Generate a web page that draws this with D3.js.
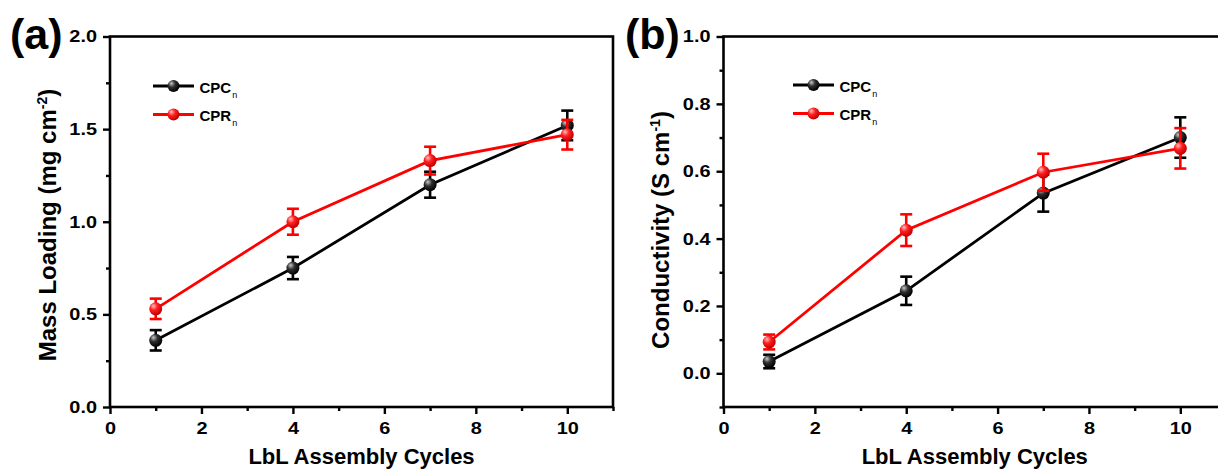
<!DOCTYPE html>
<html>
<head>
<meta charset="utf-8">
<script src="https://cdn.jsdelivr.net/npm/d3@7"></script>
<style>
  html, body { margin: 0; padding: 0; background: #fff; }
  svg { display: block; }
  text { font-family: "Liberation Sans", Arial, sans-serif; font-weight: bold; fill: #000; }
</style>
</head>
<body>
<svg id="chart" width="1218" height="470"></svg>
<script>
// LbL assembly cycles shared by both panels
const cycles = [1, 4, 7, 10];

// (a) mass loading, mg cm^-2
const massCPC    = [0.36, 0.75, 1.20, 1.52];
const massCPCErr = [0.055, 0.06, 0.07, 0.08];
const massCPR    = [0.53, 1.00, 1.33, 1.47];
const massCPRErr = [0.055, 0.07, 0.075, 0.08];

// (b) conductivity, S cm^-1
const condCPC    = [0.035, 0.245, 0.535, 0.70];
const condCPCErr = [0.02, 0.042, 0.055, 0.06];
const condCPR    = [0.093, 0.425, 0.597, 0.668];
const condCPRErr = [0.022, 0.047, 0.055, 0.06];

// axis ticks
const xMajor = [0, 2, 4, 6, 8, 10];
const xMinor = [1, 3, 5, 7, 9, 11];
const massMajor = [0, 0.5, 1.0, 1.5, 2.0];
const massMinor = [0.25, 0.75, 1.25, 1.75];
const condMajor = [0, 0.2, 0.4, 0.6, 0.8, 1.0];
const condMinor = [-0.1, 0.1, 0.3, 0.5, 0.7, 0.9];

const seriesNames = ["CPC", "CPR"];
const seriesColors = ["#000000", "#ff0000"];

const svg = d3.select("#chart");
const defs = svg.append("defs");

// shaded sphere markers
function sphereGradient(id, hi, mid, lo) {
  const g = defs.append("radialGradient").attr("id", id)
    .attr("cx", "38%").attr("cy", "35%").attr("r", "65%")
    .attr("fx", "32%").attr("fy", "28%");
  g.append("stop").attr("offset", "0%").attr("stop-color", hi);
  g.append("stop").attr("offset", "45%").attr("stop-color", mid);
  g.append("stop").attr("offset", "100%").attr("stop-color", lo);
}
sphereGradient("sphere-black", "#c8c8c8", "#303030", "#000000");
sphereGradient("sphere-red", "#ffc0c0", "#ff2020", "#c00000");
const sphereFill = ["url(#sphere-black)", "url(#sphere-red)"];

const panels = [
  {
    label: "(a)", labelX: 10, left: 110, right: 613,
    yDomain: [0, 2.0], yMajor: massMajor, yMinor: massMinor,
    series: [[massCPC, massCPCErr], [massCPR, massCPRErr]],
    title: ["Mass Loading (mg cm", "-2", ")"], titleX: 56, titleY: 225,
    legendX: 153, legendY: 86
  },
  {
    label: "(b)", labelX: 625, left: 723.5, right: 1226,
    yDomain: [-0.1, 1.0], yMajor: condMajor, yMinor: condMinor,
    series: [[condCPC, condCPCErr], [condCPR, condCPRErr]],
    title: ["Conductivity (S cm", "-1", ")"], titleX: 669, titleY: 230,
    legendX: 793, legendY: 85
  }
];

const plotTop = 36.5, plotBottom = 407;
const tickFont = 17, tickStretch = 1.17;

panels.forEach(p => {
  const x = d3.scaleLinear().domain([0, 11]).range([p.left, p.right]);
  const y = d3.scaleLinear().domain(p.yDomain).range([plotBottom, plotTop]);
  const g = svg.append("g");

  // frame
  g.append("rect")
    .attr("x", p.left).attr("y", plotTop)
    .attr("width", p.right - p.left).attr("height", plotBottom - plotTop)
    .attr("fill", "none").attr("stroke", "#000").attr("stroke-width", 2.6);

  // x axis
  const xa = g.append("g").attr("transform", `translate(0,${plotBottom})`)
    .call(d3.axisBottom(x).tickValues(xMajor).tickSize(7).tickPadding(8).tickFormat(d3.format("d")));
  g.append("g").attr("transform", `translate(0,${plotBottom})`)
    .call(d3.axisBottom(x).tickValues(xMinor).tickSize(4).tickFormat(""));

  // y axis
  const ya = g.append("g").attr("transform", `translate(${p.left},0)`)
    .call(d3.axisLeft(y).tickValues(p.yMajor).tickSize(7).tickPadding(6).tickFormat(d3.format(".1f")));
  g.append("g").attr("transform", `translate(${p.left},0)`)
    .call(d3.axisLeft(y).tickValues(p.yMinor).tickSize(4).tickFormat(""));

  g.selectAll(".domain").remove();
  g.selectAll(".tick line").attr("stroke", "#000").attr("stroke-width", 2.4);
  g.selectAll(".tick text")
    .attr("fill", "#000")
    .style("font-family", '"Liberation Sans", Arial, sans-serif')
    .style("font-weight", "bold").style("font-size", tickFont + "px");

  // wide tick lettering
  xa.selectAll(".tick text").attr("transform", `scale(${tickStretch},1)`);
  ya.selectAll(".tick text").each(function () {
    const t = d3.select(this);
    const tx = +t.attr("x");
    t.attr("x", 0).attr("transform", `translate(${tx},0) scale(${tickStretch},1)`);
  });

  // axis titles
  g.append("text")
    .attr("x", (p.left + p.right) / 2).attr("y", 464)
    .attr("text-anchor", "middle").style("font-size", "22px")
    .text("LbL Assembly Cycles");

  const yt = g.append("text")
    .attr("transform", `translate(${p.titleX},${p.titleY}) rotate(-90)`)
    .attr("text-anchor", "middle").style("font-size", "24px");
  yt.append("tspan").text(p.title[0]);
  yt.append("tspan").attr("dy", "-9").style("font-size", "14px").text(p.title[1]);
  yt.append("tspan").attr("dy", "9").text(p.title[2]);

  // panel label
  svg.append("text").attr("x", p.labelX).attr("y", 49)
    .style("font-size", "43px").text(p.label);

  // series: lines, error bars, sphere markers
  const line = d3.line().x((d, i) => x(cycles[i])).y(d => y(d));
  p.series.forEach(([vals, errs], s) => {
    const color = seriesColors[s];
    const sg = g.append("g");
    sg.append("path").datum(vals)
      .attr("d", line).attr("fill", "none")
      .attr("stroke", color).attr("stroke-width", 2.8);

    const eb = sg.selectAll(".err").data(vals).join("g").attr("class", "err");
    eb.append("line")
      .attr("x1", (d, i) => x(cycles[i])).attr("x2", (d, i) => x(cycles[i]))
      .attr("y1", (d, i) => y(d - errs[i])).attr("y2", (d, i) => y(d + errs[i]))
      .attr("stroke", color).attr("stroke-width", 2.6);
    [-1, 1].forEach(sign => {
      eb.append("line")
        .attr("x1", (d, i) => x(cycles[i]) - 6).attr("x2", (d, i) => x(cycles[i]) + 6)
        .attr("y1", (d, i) => y(d + sign * errs[i])).attr("y2", (d, i) => y(d + sign * errs[i]))
        .attr("stroke", color).attr("stroke-width", 2.6);
    });

    sg.selectAll("circle").data(vals).join("circle")
      .attr("cx", (d, i) => x(cycles[i])).attr("cy", d => y(d))
      .attr("r", 6.5).attr("fill", sphereFill[s]);
  });

  // legend
  seriesNames.forEach((name, s) => {
    const ly = p.legendY + s * 28.5;
    const lg = g.append("g");
    lg.append("line")
      .attr("x1", p.legendX).attr("x2", p.legendX + 41)
      .attr("y1", ly).attr("y2", ly)
      .attr("stroke", seriesColors[s]).attr("stroke-width", 2.8);
    lg.append("circle")
      .attr("cx", p.legendX + 20.5).attr("cy", ly).attr("r", 6)
      .attr("fill", sphereFill[s]);
    const t = lg.append("text")
      .attr("x", p.legendX + 46.5).attr("y", ly + 6.5)
      .style("font-size", "15px");
    t.append("tspan").text(name);
    t.append("tspan").attr("dy", "5").attr("dx", "1")
      .style("font-size", "9px").style("font-weight", "normal").text("n");
  });
});
</script>
</body>
</html>
